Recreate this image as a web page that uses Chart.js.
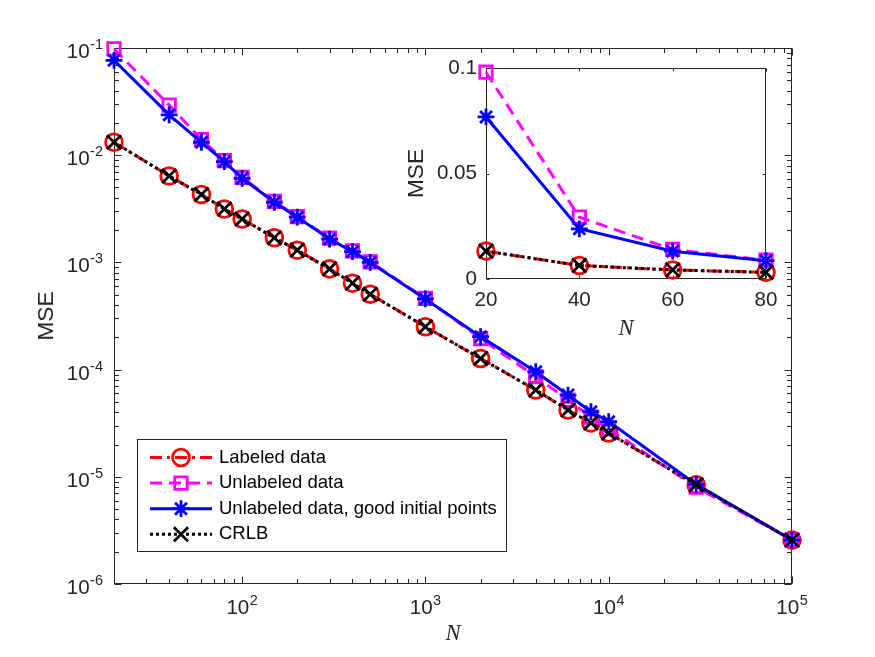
<!DOCTYPE html>
<html><head><meta charset="utf-8">
<script src="https://cdn.jsdelivr.net/npm/chart.js@4/dist/chart.umd.min.js"></script>
<style>
html,body{margin:0;padding:0;background:#fff;}
#wrap{position:relative;width:875px;height:657px;background:#fff;overflow:hidden;}
#main{position:absolute;left:0;top:0;}
#inset{position:absolute;left:380px;top:40px;}
</style></head><body>
<div id="wrap"><canvas id="main" width="875" height="657"></canvas><canvas id="inset" width="420" height="310"></canvas></div>
<script>
// ---------------- data ----------------
const N = [20, 40, 60, 80, 100, 150, 200, 300, 400, 500, 1000, 2000, 4000, 6000, 8000, 10000, 30000, 100000];
const labeledMSE   = [0.0132, 0.0064, 0.0043, 0.00315, 0.00254, 0.0017, 0.0013, 0.00087, 0.00064, 0.000504, 0.000251, 0.000127, 6.45e-5, 4.2e-5, 3.18e-5, 2.56e-5, 8.4e-6, 2.57e-6];
const unlabeledMSE = [0.098, 0.0293, 0.014, 0.0089, 0.0062, 0.0037, 0.00268, 0.00168, 0.00128, 0.00101, 0.000462, 0.000195, 8.6e-5, 5.2e-5, 3.6e-5, 2.8e-5, 8.0e-6, 2.57e-6];
const goodInitMSE  = [0.0768, 0.0238, 0.0132, 0.0087, 0.00609, 0.00364, 0.00264, 0.00165, 0.00126, 0.001, 0.000456, 0.000203, 9.55e-5, 5.79e-5, 4.05e-5, 3.27e-5, 8.5e-6, 2.57e-6];
const crlbMSE      = [0.0132, 0.0064, 0.0043, 0.00315, 0.00254, 0.0017, 0.0013, 0.00087, 0.00064, 0.000504, 0.000251, 0.000127, 6.45e-5, 4.2e-5, 3.18e-5, 2.56e-5, 8.4e-6, 2.57e-6];
const seriesNames = ['Labeled data', 'Unlabeled data', 'Unlabeled data, good initial points', 'CRLB'];
const mainXTicks = [1e2, 1e3, 1e4, 1e5];
const mainYTicks = [1e-6, 1e-5, 1e-4, 1e-3, 1e-2, 1e-1];
const insetCount = 4; // inset shows the first four N values (20..80)
const insetXTicks = [20, 40, 60, 80];
const insetYTicks = [0, 0.05, 0.1];
const axisLabelY = 'MSE';
const axisLabelX = 'N';

// ---------------- styles ----------------
const SANS = "'Liberation Sans', Arial, Helvetica, sans-serif";
const SERIF = "'Liberation Serif', 'Times New Roman', serif";
const TXT = '#262626';
const TICK_SIZE = 20.6, SUP_SIZE = 14.5;
const styles = [
  {color: '#ff0000', dash: [12, 5, 3, 5], pointStyle: 'circle',   radius: 8.4, order: 3},
  {color: '#ff00ff', dash: [12, 7],       pointStyle: 'rect',     radius: 8.8, order: 2},
  {color: '#0000ff', dash: [],            pointStyle: 'star',     radius: 8.4, order: 1},
  {color: '#000000', dash: [3, 3],        pointStyle: 'crossRot', radius: 10,  order: 0}
];

function makeDatasets(count) {
  const series = [labeledMSE, unlabeledMSE, goodInitMSE, crlbMSE];
  return series.map((arr, i) => ({
    label: seriesNames[i],
    data: N.slice(0, count).map((n, j) => ({x: n, y: arr[j]})),
    borderColor: styles[i].color,
    backgroundColor: 'rgba(0,0,0,0)',
    borderWidth: 3,
    borderDash: styles[i].dash,
    pointStyle: styles[i].pointStyle,
    pointRadius: styles[i].radius,
    pointHoverRadius: styles[i].radius,
    pointBorderWidth: 2.8,
    pointBorderColor: styles[i].color,
    pointBackgroundColor: 'rgba(0,0,0,0)',
    tension: 0,
    fill: false,
    clip: false,
    order: styles[i].order
  }));
}

// box + inward ticks on all four sides
function framePlugin(id, tickSets) {
  return {
    id: id,
    beforeDatasetsDraw(chart) {
      const {ctx, chartArea, scales} = chart;
      const L = Math.round(chartArea.left) + 0.5, R = Math.round(chartArea.right) - 0.5;
      const T = Math.round(chartArea.top) + 0.5, B = Math.round(chartArea.bottom) - 0.5;
      ctx.save();
      ctx.strokeStyle = TXT;
      ctx.lineWidth = 1;
      ctx.beginPath();
      tickSets.x.forEach(([vals, len]) => vals.forEach(v => {
        const p = Math.round(scales.x.getPixelForValue(v)) + 0.5;
        ctx.moveTo(p, B); ctx.lineTo(p, B - len);
        ctx.moveTo(p, T); ctx.lineTo(p, T + len);
      }));
      tickSets.y.forEach(([vals, len]) => vals.forEach(v => {
        const p = Math.round(scales.y.getPixelForValue(v)) + 0.5;
        ctx.moveTo(L, p); ctx.lineTo(L + len, p);
        ctx.moveTo(R, p); ctx.lineTo(R - len, p);
      }));
      ctx.stroke();
      ctx.strokeRect(L, T, R - L, B - T);
      ctx.restore();
    }
  };
}

function logMinors(lo, hi) {
  const out = [];
  for (let e = Math.floor(Math.log10(lo)); e < Math.ceil(Math.log10(hi)); e++) {
    for (let k = 2; k <= 9; k++) {
      const v = k * Math.pow(10, e);
      if (v >= lo && v <= hi) out.push(v);
    }
  }
  return out;
}

// power-of-ten tick labels with a real superscript exponent, placed from the scales' ticks
const powerLabelPlugin = {
  id: 'powerLabels',
  afterDraw(chart) {
    const {ctx, scales: {x, y}} = chart;
    const baseFont = TICK_SIZE + 'px ' + SANS, supFont = SUP_SIZE + 'px ' + SANS;
    function drawLabel(v, px, baseline, align) {
      const e = String(Math.round(Math.log10(v)));
      ctx.font = baseFont; const w1 = ctx.measureText('10').width;
      ctx.font = supFont;  const w2 = ctx.measureText(e).width;
      const tot = w1 + w2 + 0.5;
      const x0 = align === 'right' ? px - tot : px - tot / 2;
      ctx.font = baseFont; ctx.fillText('10', x0, baseline);
      ctx.font = supFont;  ctx.fillText(e, x0 + w1 + 0.5, baseline - 9);
    }
    ctx.save();
    ctx.fillStyle = TXT;
    ctx.textAlign = 'left';
    ctx.textBaseline = 'alphabetic';
    x.ticks.forEach(t => drawLabel(t.value, x.getPixelForValue(t.value), x.top + 30, 'center'));
    y.ticks.forEach(t => drawLabel(t.value, y.right - 11, y.getPixelForValue(t.value) + 10, 'right'));
    ctx.restore();
  }
};

const legendPlugin = {
  id: 'boxLegend',
  afterDraw(chart) {
    const ctx = chart.ctx;
    const bl = 137.5, bt = 439.5, br = 506.5, bb = 551.5;
    ctx.save();
    ctx.fillStyle = '#ffffff';
    ctx.fillRect(bl, bt, br - bl, bb - bt);
    ctx.strokeStyle = TXT;
    ctx.lineWidth = 1;
    ctx.strokeRect(bl, bt, br - bl, bb - bt);
    chart.data.datasets.forEach((ds, i) => {
      const yy = 457.5 + i * 25.6;
      ctx.save();
      ctx.strokeStyle = ds.borderColor;
      ctx.lineWidth = ds.borderWidth;
      ctx.setLineDash(ds.borderDash);
      ctx.beginPath(); ctx.moveTo(150, yy); ctx.lineTo(212, yy); ctx.stroke();
      ctx.setLineDash([]);
      ctx.lineWidth = ds.pointBorderWidth;
      ctx.fillStyle = 'rgba(0,0,0,0)';
      Chart.helpers.drawPoint(ctx, {pointStyle: ds.pointStyle, radius: ds.pointRadius, rotation: 0, borderWidth: ds.pointBorderWidth}, 181, yy);
      ctx.restore();
      ctx.fillStyle = '#000';
      ctx.font = '18.5px ' + SANS;
      ctx.textBaseline = 'middle';
      ctx.textAlign = 'left';
      ctx.fillText(ds.label, 219, yy);
    });
    ctx.restore();
  }
};

// ---------------- main chart ----------------
new Chart(document.getElementById('main'), {
  type: 'line',
  data: {datasets: makeDatasets(N.length)},
  options: {
    responsive: false, animation: false, devicePixelRatio: 1,
    layout: {padding: {top: 48, right: 83, bottom: 0, left: 0}},
    plugins: {legend: {display: false}, tooltip: {enabled: false}},
    scales: {
      x: {
        type: 'logarithmic', min: 20, max: 1e5,
        afterBuildTicks: s => { s.ticks = mainXTicks.map(v => ({value: v})); },
        afterFit: s => { s.height = 73; },
        grid: {display: false, drawTicks: false, tickLength: 0},
        border: {display: false},
        ticks: {display: false, autoSkip: false},
        title: {display: true, text: axisLabelX, color: TXT, font: {family: SERIF, style: 'italic', size: 22.7}, padding: {top: 0, bottom: 9}}
      },
      y: {
        type: 'logarithmic', min: 1e-6, max: 1e-1,
        afterBuildTicks: s => { s.ticks = mainYTicks.map(v => ({value: v})); },
        afterFit: s => { s.width = 114; },
        grid: {display: false, drawTicks: false, tickLength: 0},
        border: {display: false},
        ticks: {display: false, autoSkip: false},
        title: {display: true, text: axisLabelY, color: TXT, font: {family: SANS, size: 22.7}, padding: {top: 33, bottom: 0}}
      }
    }
  },
  plugins: [framePlugin('mainFrame', {
    x: [[mainXTicks, 7], [logMinors(20, 1e5), 4.5]],
    y: [[mainYTicks, 7], [logMinors(1e-6, 1e-1), 4.5]]
  }), powerLabelPlugin, legendPlugin]
});

// ---------------- inset chart ----------------
new Chart(document.getElementById('inset'), {
  type: 'line',
  data: {datasets: makeDatasets(insetCount)},
  options: {
    responsive: false, animation: false, devicePixelRatio: 1,
    layout: {padding: {top: 28, right: 34, bottom: 0, left: 0}},
    plugins: {legend: {display: false}, tooltip: {enabled: false}},
    scales: {
      x: {
        type: 'linear', min: 20, max: 80,
        afterBuildTicks: s => { s.ticks = insetXTicks.map(v => ({value: v})); },
        afterFit: s => { s.height = 71; },
        grid: {display: false, drawTicks: false, tickLength: 0},
        border: {display: false},
        ticks: {callback: v => String(v), color: TXT, font: {family: SANS, size: TICK_SIZE}, padding: 9, maxRotation: 0, autoSkip: false},
        title: {display: true, text: axisLabelX, color: TXT, font: {family: SERIF, style: 'italic', size: 22.7}, padding: {top: 0, bottom: 7}}
      },
      y: {
        type: 'linear', min: 0, max: 0.1,
        afterBuildTicks: s => { s.ticks = insetYTicks.map(v => ({value: v})); },
        afterFit: s => { s.width = 106; },
        grid: {display: false, drawTicks: false, tickLength: 0},
        border: {display: false},
        ticks: {callback: v => String(v), color: TXT, font: {family: SANS, size: TICK_SIZE}, padding: 9, autoSkip: false},
        title: {display: true, text: axisLabelY, color: TXT, font: {family: SANS, size: 22.7}, padding: {top: 23, bottom: 0}}
      }
    }
  },
  plugins: [framePlugin('insetFrame', {x: [[insetXTicks, 3]], y: [[insetYTicks, 3]]})]
});
</script>
</body></html>
